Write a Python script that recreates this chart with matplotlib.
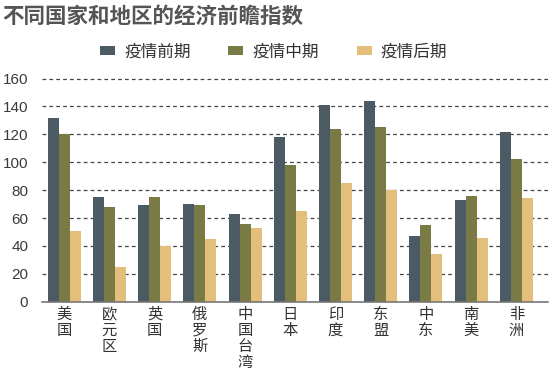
import numpy as np
import matplotlib
matplotlib.use("Agg")
import matplotlib.pyplot as plt
from matplotlib.patches import Patch

plt.rcParams['font.family'] = ['Noto Sans CJK SC', 'DejaVu Sans']

TITLE = "不同国家和地区的经济前瞻指数"
regions = ["美国", "欧元区", "英国", "俄罗斯", "中国台湾", "日本", "印度", "东盟", "中东", "南美", "非洲"]
series_names = ["疫情前期", "疫情中期", "疫情后期"]
before = [132, 75, 69, 70, 63, 118, 141, 144, 47, 73, 122]
during = [120, 68, 75, 69, 56, 98, 124, 125, 55, 76, 102]
after = [51, 25, 40, 45, 53, 65, 85, 80, 34, 46, 74]
colors = ["#4c5b63", "#7a7a45", "#e4bf7c"]
y_ticks = [0, 20, 40, 60, 80, 100, 120, 140, 160]

fig = plt.figure(figsize=(5.5, 3.71), dpi=100)
ax = fig.add_axes([0.0764, 0.1868, 0.92, 0.609])

x = np.arange(len(regions))
w = 0.243
for i, (vals, c) in enumerate(zip([before, during, after], colors)):
    ax.bar(x + (i - 1) * w, vals, width=w, color=c, zorder=3)

ax.set_xlim(-0.49, 10.70)
ax.set_ylim(0, 162)
ax.set_yticks(y_ticks)
ax.set_yticklabels([str(t) for t in y_ticks], fontsize=11, color="#3a3a3a",
                   family=['Liberation Sans', 'DejaVu Sans'])
ax.tick_params(axis='y', length=0, pad=10)
ax.grid(axis='y', color="#444444", linestyle=(0, (3, 2.5)), linewidth=0.9, zorder=1)
ax.set_xticks(x)
ax.set_xticklabels(["\n".join(r) for r in regions], fontsize=11, color="#333333",
                   linespacing=0.92, va='top')
ax.tick_params(axis='x', length=0, pad=3)
for s in ['top', 'right', 'left']:
    ax.spines[s].set_visible(False)
ax.spines['bottom'].set_color("#777777")
ax.spines['bottom'].set_linewidth(1.2)
ax.spines['bottom'].set_zorder(4)

handles = [Patch(facecolor=c, edgecolor='none') for c in colors]
fig.legend(handles, series_names, loc='center left', bbox_to_anchor=(0.155, 0.86),
           ncol=3, frameon=False, fontsize=12, handlelength=0.9, handleheight=0.45,
           handletextpad=0.55, columnspacing=2.25, labelcolor="#333333")

fig.text(0.004, 0.955, TITLE, fontsize=15.5, fontweight='bold', color="#555555",
         va='center', ha='left')

fig.savefig("out.png", dpi=100, facecolor='white')
